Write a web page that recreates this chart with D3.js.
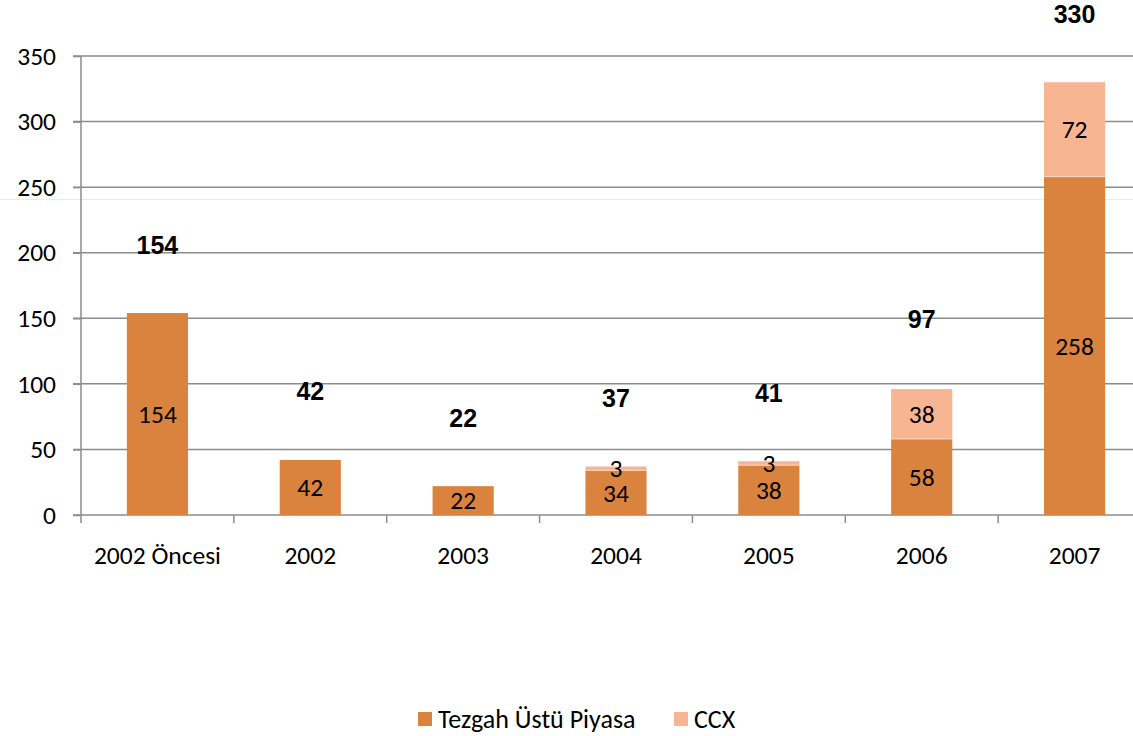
<!DOCTYPE html>
<html><head><meta charset="utf-8">
<script src="https://cdn.jsdelivr.net/npm/d3@7"></script>
<style>
html,body{margin:0;padding:0;background:#fff;}
svg{display:block;}
</style></head>
<body>
<svg id="chart" width="1133" height="736"></svg>
<script>
const categories = ["2002 Öncesi", "2002", "2003", "2004", "2005", "2006", "2007"];
const otcValues = [154, 42, 22, 34, 38, 58, 258];
const ccxValues = [0, 0, 0, 3, 3, 38, 72];
const totals = [154, 42, 22, 37, 41, 97, 330];
const yTicks = [0, 50, 100, 150, 200, 250, 300, 350];
const seriesNames = ["Tezgah Üstü Piyasa", "CCX"];

const colors = {otc: "#DA833E", ccx: "#F8B591"};
const font = "Carlito, Lato, 'Open Sans', sans-serif";
const fs = 25.5;

const svg = d3.select("#chart");
const W = 1133, H = 736;
const x0 = 81, x1 = 1151, yBase = 515, yTop = 56;

const x = d3.scaleBand().domain(categories).range([x0, x1]).padding(0);
const y = d3.scaleLinear().domain([0, 350]).range([yBase, yTop]);
const barW = x.bandwidth() * 0.4;

// faint artifact line
svg.append("line").attr("x1", 0).attr("x2", W).attr("y1", 199.5).attr("y2", 199.5)
  .attr("stroke", "#fbe8c6").attr("stroke-width", 1);

// gridlines
svg.append("g").selectAll("line").data(yTicks.filter(d => d > 0)).join("line")
  .attr("x1", x0 - 8).attr("x2", W)
  .attr("y1", d => y(d)).attr("y2", d => y(d))
  .attr("stroke", "#8c8c8c").attr("stroke-width", 1.5);

// y axis
const yAxis = d3.axisLeft(y).tickValues(yTicks).tickSize(8).tickPadding(17);
const gy = svg.append("g").attr("transform", `translate(${x0},0)`).call(yAxis);
gy.select(".domain").attr("stroke", "#8c8c8c").attr("stroke-width", 1.5).attr("d", `M-8,${yBase}H0V${yTop}`);
gy.selectAll(".tick line").attr("stroke", "#8c8c8c").attr("stroke-width", 1.5);
gy.selectAll(".tick text").attr("font-family", font).attr("font-size", fs).attr("fill", "#000");

// x axis
const xAxis = d3.axisBottom(x).tickSize(0).tickPadding(31);
const gx = svg.append("g").attr("transform", `translate(0,${yBase})`).call(xAxis);
gx.select(".domain").attr("stroke", "#8c8c8c").attr("stroke-width", 1.5).attr("d", `M${x0},0H${x1}`);
gx.selectAll(".tick text").attr("font-family", font).attr("font-size", fs).attr("fill", "#000");
// category boundary ticks
svg.append("g").selectAll("line").data(categories.map((c, i) => i).concat([categories.length])).join("line")
  .attr("x1", i => i < categories.length ? x(categories[i]) : x1)
  .attr("x2", i => i < categories.length ? x(categories[i]) : x1)
  .attr("y1", yBase).attr("y2", yBase + 8)
  .attr("stroke", "#8c8c8c").attr("stroke-width", 1.5);

// bars
const gBars = svg.append("g");
categories.forEach((c, i) => {
  const cx = x(c) + x.bandwidth() / 2;
  const o = otcValues[i], k = ccxValues[i];
  gBars.append("rect").attr("x", cx - barW / 2).attr("width", barW)
    .attr("y", y(o)).attr("height", y(0) - y(o)).attr("fill", colors.otc);
  if (k > 0) {
    gBars.append("rect").attr("x", cx - barW / 2).attr("width", barW)
      .attr("y", y(o + k)).attr("height", y(o) - y(o + k)).attr("fill", colors.ccx);
    gBars.append("line").attr("x1", cx - barW / 2).attr("x2", cx + barW / 2)
      .attr("y1", y(o)).attr("y2", y(o)).attr("stroke", "#fbd9c3").attr("stroke-width", 1);
  }
  gBars.append("text").attr("x", cx).attr("y", y(o / 2)).attr("dy", "0.35em")
    .attr("text-anchor", "middle").attr("font-family", font).attr("font-size", fs)
    .attr("fill", "#000").text(o);
  if (k > 0) {
    gBars.append("text").attr("x", cx).attr("y", y(o + k / 2)).attr("dy", "0.35em")
      .attr("text-anchor", "middle").attr("font-family", font).attr("font-size", fs)
      .attr("fill", "#000").text(k);
  }
  gBars.append("text").attr("x", cx).attr("y", y(totals[i] + 52)).attr("dy", "0.35em")
    .attr("text-anchor", "middle").attr("font-family", "'Liberation Sans', Arial, sans-serif")
    .attr("font-weight", "bold").attr("font-size", 25).attr("fill", "#000").text(totals[i]);
});

// legend
const legend = svg.append("g");
const legendItems = [
  {name: seriesNames[0], color: colors.otc, x: 418},
  {name: seriesNames[1], color: colors.ccx, x: 674}
];
legendItems.forEach(it => {
  legend.append("rect").attr("x", it.x).attr("y", 712).attr("width", 14).attr("height", 14).attr("fill", it.color);
  legend.append("text").attr("x", it.x + 20).attr("y", 719).attr("dy", "0.35em")
    .attr("font-family", font).attr("font-size", 26).attr("fill", "#000").text(it.name);
});
</script>
</body></html>
